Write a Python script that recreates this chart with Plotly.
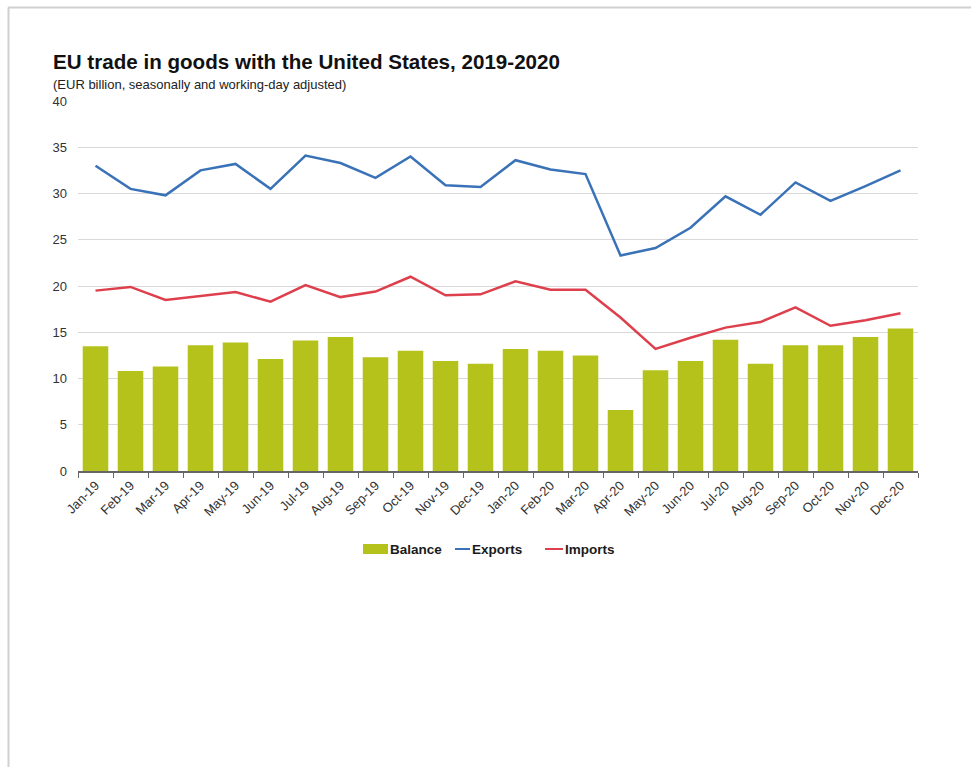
import plotly.graph_objects as go

# Monthly EU trade in goods with the United States (EUR billion)
months = ["Jan-19", "Feb-19", "Mar-19", "Apr-19", "May-19", "Jun-19",
          "Jul-19", "Aug-19", "Sep-19", "Oct-19", "Nov-19", "Dec-19",
          "Jan-20", "Feb-20", "Mar-20", "Apr-20", "May-20", "Jun-20",
          "Jul-20", "Aug-20", "Sep-20", "Oct-20", "Nov-20", "Dec-20"]

balance = [13.5, 10.8, 11.3, 13.6, 13.9, 12.1, 14.1, 14.5, 12.3, 13.0, 11.9, 11.6,
           13.2, 13.0, 12.5, 6.6, 10.9, 11.9, 14.2, 11.6, 13.6, 13.6, 14.5, 15.4]

exports = [33.0, 30.5, 29.8, 32.5, 33.2, 30.5, 34.1, 33.3, 31.7, 34.0, 30.9, 30.7,
           33.6, 32.6, 32.1, 23.3, 24.1, 26.3, 29.7, 27.7, 31.2, 29.2, 30.8, 32.5]

imports = [19.5, 19.9, 18.5, 18.9, 19.35, 18.3, 20.1, 18.8, 19.4, 21.0, 19.0, 19.1,
           20.5, 19.6, 19.6, 16.6, 13.2, 14.4, 15.5, 16.1, 17.7, 15.7, 16.3, 17.05]

y_ticks = [0, 5, 10, 15, 20, 25, 30, 35, 40]

GREEN = "#b6c21c"
BLUE = "#3a72b8"
RED = "#de3f4c"
FONT = "Arial, Liberation Sans, sans-serif"

fig = go.Figure()
fig.add_trace(go.Bar(x=months, y=balance, name="Balance",
                     marker=dict(color=GREEN, line=dict(width=0))))
fig.add_trace(go.Scatter(x=months, y=exports, name="Exports", mode="lines",
                         line=dict(color=BLUE, width=2.5)))
fig.add_trace(go.Scatter(x=months, y=imports, name="Imports", mode="lines",
                         line=dict(color=RED, width=2.5)))

W, H = 971, 767
L, R, T, B = 78, 53, 101, 296
pw, ph = W - L - R, H - T - B


def px(x):
    return (x - L) / pw


def py(y):
    return (H - B - y) / ph


def ann(text, x, y, size, color, anchor="left"):
    return dict(text=text, xref="paper", yref="paper", x=px(x), y=py(y),
                xanchor=anchor, yanchor="middle", showarrow=False,
                font=dict(family=FONT, size=size, color=color))


# compact legend: short symbols with labels directly after them
LEG_Y = 549
legend_shapes = [
    dict(type="rect", xref="paper", yref="paper",
         x0=px(363), x1=px(388), y0=py(544), y1=py(554),
         fillcolor=GREEN, line=dict(width=0)),
    dict(type="line", xref="paper", yref="paper",
         x0=px(455), x1=px(470), y0=py(LEG_Y), y1=py(LEG_Y),
         line=dict(color=BLUE, width=2)),
    dict(type="line", xref="paper", yref="paper",
         x0=px(545), x1=px(563), y0=py(LEG_Y), y1=py(LEG_Y),
         line=dict(color=RED, width=2)),
]
legend_labels = [
    ann("<b>Balance</b>", 388, LEG_Y, 13.5, "#1a1a1a"),
    ann("<b>Exports</b>", 470, LEG_Y, 13.5, "#1a1a1a"),
    ann("<b>Imports</b>", 563, LEG_Y, 13.5, "#1a1a1a"),
]

fig.update_layout(
    width=W, height=H,
    margin=dict(l=L, r=R, t=T, b=B),
    paper_bgcolor="white", plot_bgcolor="white",
    font=dict(family=FONT, size=12, color="#333333"),
    bargap=0.27,
    showlegend=False,
    xaxis=dict(type="category", showgrid=False, showline=True,
               linecolor="#666666", linewidth=1.5,
               ticks="outside", tickson="boundaries", ticklen=5,
               tickcolor="#666666", tickwidth=1,
               tickangle=-45, tickfont=dict(size=13, color="#333333")),
    yaxis=dict(range=[0, 40], tickvals=y_ticks, showgrid=True,
               gridcolor="#d9d9d9", gridwidth=1, zeroline=False,
               showline=False, ticks="", ticklabelstandoff=10,
               tickfont=dict(size=13, color="#333333")),
    annotations=[
        ann("<b>EU trade in goods with the United States, 2019-2020</b>",
            51, 62, 20.6, "#111111"),
        ann("(EUR billion, seasonally and working-day adjusted)",
            51, 84, 13, "#222222"),
    ] + legend_labels,
    shapes=[
        # frame around the chart panel (top and left edges)
        dict(type="line", xref="paper", yref="paper",
             x0=px(8), x1=px(971), y0=py(7.5), y1=py(7.5),
             line=dict(color="#d0d0d0", width=2)),
        dict(type="line", xref="paper", yref="paper",
             x0=px(8.5), x1=px(8.5), y0=py(7.5), y1=py(767),
             line=dict(color="#d0d0d0", width=2)),
    ] + legend_shapes,
)

fig.write_html("out.html")
